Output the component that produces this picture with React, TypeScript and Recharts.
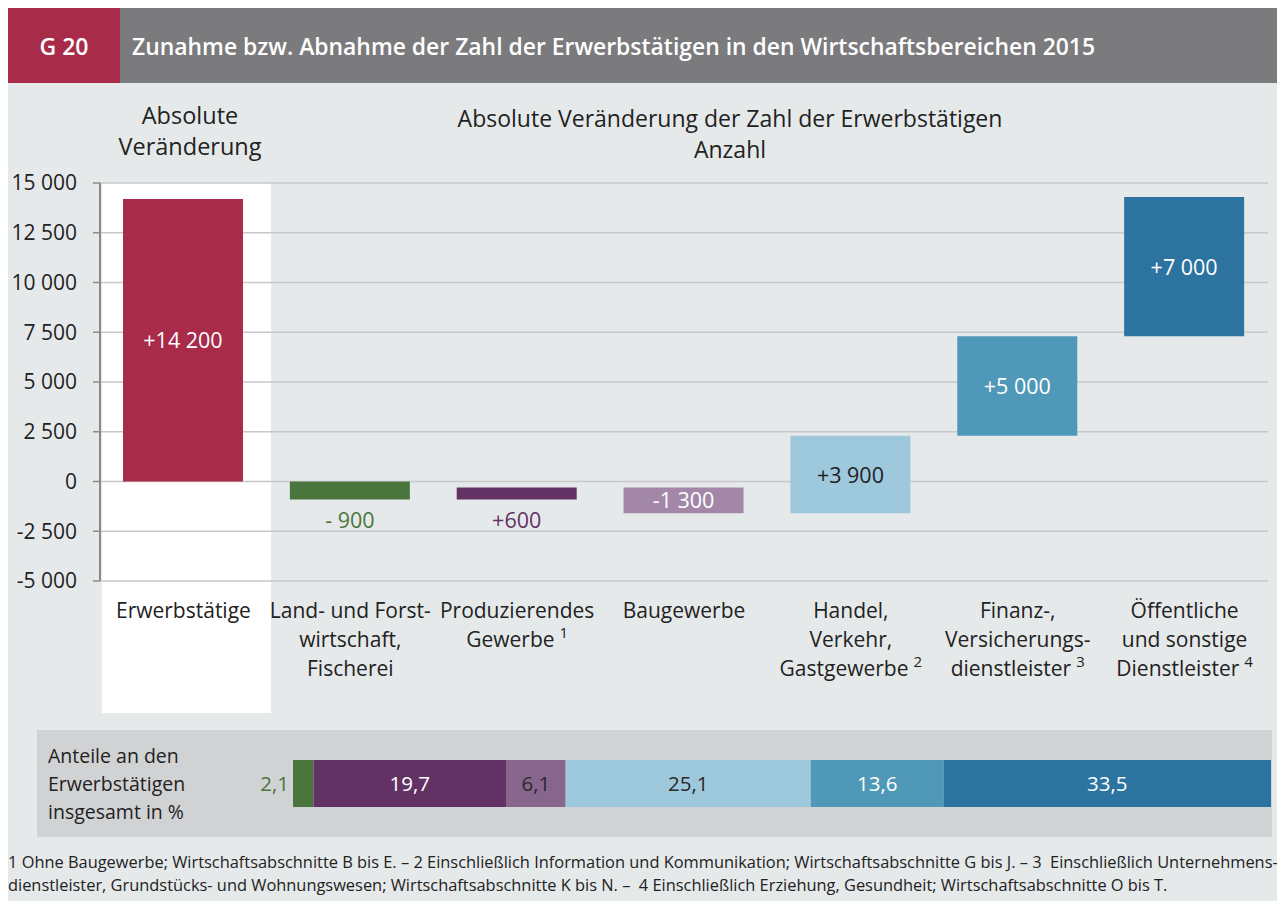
import React from "react";
import { BarChart, Bar, XAxis, YAxis, CartesianGrid, Cell, LabelList } from "recharts";

const categories = [
  "Erwerbstätige",
  "Land- und Forstwirtschaft, Fischerei",
  "Produzierendes Gewerbe",
  "Baugewerbe",
  "Handel, Verkehr, Gastgewerbe",
  "Finanz-, Versicherungsdienstleister",
  "Öffentliche und sonstige Dienstleister",
];
const tickLines = [
  ["Erwerbstätige"],
  ["Land- und Forst-", "wirtschaft,", "Fischerei"],
  ["Produzierendes", "Gewerbe"],
  ["Baugewerbe"],
  ["Handel,", "Verkehr,", "Gastgewerbe"],
  ["Finanz-,", "Versicherungs-", "dienstleister"],
  ["Öffentliche", "und sonstige", "Dienstleister"],
];
const footnoteMarks = ["", "", "1", "", "2", "3", "4"];
const changes = [14200, -900, 600, -1300, 3900, 5000, 7000];
const changeLabels = ["+14 200", "- 900", "+600", "-1 300", "+3 900", "+5 000", "+7 000"];
const yTicks = [-5000, -2500, 0, 2500, 5000, 7500, 10000, 12500, 15000];
const shareValues = [2.1, 19.7, 6.1, 25.1, 13.6, 33.5];

const barColors = ["#a82b4a", "#4a763e", "#633264", "#a387a9", "#9ec8dc", "#4f98b8", "#2c73a0"];
const barTextColors = ["#ffffff", "#4a763e", "#633264", "#ffffff", "#222222", "#ffffff", "#ffffff"];
const shareColors = ["#4a763e", "#633264", "#87668d", "#9ec8dc", "#4f98b8", "#2c73a0"];
const shareTextColors = ["#4a763e", "#ffffff", "#2a2a2a", "#2a2a2a", "#ffffff", "#ffffff"];

const FONT = "'Open Sans', 'Noto Sans', sans-serif";

// waterfall ranges
const waterfall = (() => {
  const rows: any[] = [];
  let running = 0;
  changes.forEach((c, i) => {
    if (i === 0) {
      rows.push({ name: categories[i], range: [0, c], label: changeLabels[i] });
    } else {
      const a = running;
      const b = running + c;
      running = b;
      rows.push({ name: categories[i], range: [Math.min(a, b), Math.max(a, b)], label: changeLabels[i] });
    }
  });
  return rows;
})();

const shareRow = (() => {
  const r: any = { name: "Anteile" };
  shareValues.forEach((v, i) => (r["s" + i] = v));
  return [r];
})();
const shareTotal = shareValues.reduce((a, b) => a + b, 0);

const fmtThousands = (v: number) => {
  const s = Math.abs(v).toString().replace(/\B(?=(\d{3})+(?!\d))/g, " ");
  return (v < 0 ? "-" : "") + s;
};

const CatTick = (props: any) => {
  const { x, y, payload } = props;
  const idx = categories.indexOf(payload.value);
  const lines = tickLines[idx] || [];
  const mark = footnoteMarks[idx];
  return (
    <g>
      {lines.map((l, i) => (
        <text
          key={i}
          x={x}
          y={y + 37 + i * 29}
          textAnchor="middle"
          fontSize={21}
          fontFamily={FONT}
          fill="#222"
        >
          {l}
          {i === lines.length - 1 && mark ? (
            <tspan fontSize={15} dy={-9} dx={5}>
              {mark}
            </tspan>
          ) : null}
        </text>
      ))}
    </g>
  );
};

const BarLabel = (props: any) => {
  const { x, y, width, height, index } = props;
  const top = Math.min(y, y + height);
  const h = Math.abs(height);
  const cx = x + width / 2;
  const inside = h >= 22;
  const cy = inside ? top + h / 2 + 8 : top + h + 29;
  return (
    <text x={cx} y={cy} textAnchor="middle" fontSize={21.5} fontFamily={FONT} fill={barTextColors[index]}>
      {changeLabels[index]}
    </text>
  );
};

const makeShareLabel = (i: number) => (props: any) => {
  const { x, y, width, height } = props;
  const txt = shareValues[i].toFixed(1).replace(".", ",");
  const outside = width < 30;
  return (
    <text
      x={outside ? x - 4 : x + width / 2}
      y={y + height / 2 + 7}
      textAnchor={outside ? "end" : "middle"}
      fontSize={20.5}
      fontFamily={FONT}
      fill={shareTextColors[i]}
    >
      {txt}
    </text>
  );
};

export default function App() {
  const P = (v: number) => v - 8; // page coord -> wrapper coord
  return (
    <div
      style={{
        position: "relative",
        width: 1277,
        height: 893,
        background: "#e6e9ea",
        fontFamily: FONT,
        color: "#222",
        overflow: "hidden",
      }}
    >
      {/* header */}
      <div style={{ position: "absolute", left: 0, top: 0, width: P(120), height: 75, background: "#a82b4a" }} />
      <div style={{ position: "absolute", left: P(120), top: 0, right: 0, height: 75, background: "#7b7b7d" }} />
      <div
        style={{
          position: "absolute",
          left: 0,
          width: P(120),
          top: 0,
          height: 77,
          lineHeight: "77px",
          textAlign: "center",
          color: "#fff",
          fontSize: 23,
          fontWeight: 600,
        }}
      >
        G 20
      </div>
      <div
        style={{
          position: "absolute",
          left: P(132),
          top: 0,
          height: 77,
          lineHeight: "77px",
          color: "#fff",
          fontSize: 22.9,
          fontWeight: 600,
          whiteSpace: "nowrap",
        }}
      >
        Zunahme bzw. Abnahme der Zahl der Erwerbstätigen in den Wirtschaftsbereichen 2015
      </div>

      {/* subtitles */}
      <div
        style={{
          position: "absolute",
          left: P(90),
          width: 200,
          top: P(100),
          textAlign: "center",
          fontSize: 23.5,
          lineHeight: "31px",
        }}
      >
        Absolute
        <br />
        Veränderung
      </div>
      <div
        style={{
          position: "absolute",
          left: P(430),
          width: 600,
          top: P(103),
          textAlign: "center",
          fontSize: 23,
          lineHeight: "31px",
        }}
      >
        Absolute Veränderung der Zahl der Erwerbstätigen
        <br />
        Anzahl
      </div>

      {/* white column behind first category */}
      <div style={{ position: "absolute", left: P(102), top: P(183), width: 169, height: 530, background: "#ffffff" }} />

      {/* waterfall chart */}
      <div style={{ position: "absolute", left: -8, top: -8 }}>
        <BarChart
          width={1285}
          height={720}
          data={waterfall}
          margin={{ top: 183, right: 17, bottom: 9, left: 0 }}
          barSize={120}
        >
          <CartesianGrid horizontal vertical={false} stroke="#c6c8ca" strokeWidth={1.5} />
          <XAxis
            dataKey="name"
            axisLine={false}
            tickLine={false}
            tickSize={0}
            tickMargin={0}
            height={130}
            interval={0}
            tick={<CatTick />}
          />
          <YAxis
            type="number"
            domain={[-5000, 15000]}
            ticks={yTicks}
            width={100}
            tickSize={7}
            tickMargin={16}
            axisLine={{ stroke: "#8a8a8a", strokeWidth: 2 }}
            tickLine={{ stroke: "#8a8a8a", strokeWidth: 1.5 }}
            tick={{ fontSize: 21, fontFamily: FONT, fill: "#222" }}
            tickFormatter={fmtThousands}
            allowDataOverflow
          />
          <Bar dataKey="range" isAnimationActive={false}>
            {waterfall.map((_, i) => (
              <Cell key={i} fill={barColors[i]} />
            ))}
            <LabelList dataKey="label" content={<BarLabel />} />
          </Bar>
        </BarChart>
      </div>

      {/* share panel */}
      <div style={{ position: "absolute", left: P(37), top: P(730), width: 1235, height: 107, background: "#d1d2d4" }} />
      <div
        style={{
          position: "absolute",
          left: P(48),
          top: P(742),
          fontSize: 19.5,
          lineHeight: "28px",
          whiteSpace: "nowrap",
        }}
      >
        Anteile an den
        <br />
        Erwerbstätigen
        <br />
        insgesamt in %
      </div>
      <div style={{ position: "absolute", left: P(233), top: P(760) }}>
        <BarChart
          width={1038}
          height={47}
          data={shareRow}
          layout="vertical"
          margin={{ top: 0, right: 0, bottom: 0, left: 60 }}
          barCategoryGap={0}
        >
          <XAxis type="number" hide domain={[0, shareTotal]} />
          <YAxis type="category" dataKey="name" hide />
          {shareValues.map((_, i) => (
            <Bar key={i} dataKey={"s" + i} stackId="a" fill={shareColors[i]} isAnimationActive={false}>
              <LabelList dataKey={"s" + i} content={makeShareLabel(i)} />
            </Bar>
          ))}
        </BarChart>
      </div>

      {/* footnotes */}
      <div
        style={{
          position: "absolute",
          left: 0,
          top: P(850),
          fontSize: 16.4,
          lineHeight: "23px",
          whiteSpace: "nowrap",
          color: "#222",
        }}
      >
        1 Ohne Baugewerbe; Wirtschaftsabschnitte B bis E. – 2 Einschließlich Information und Kommunikation; Wirtschaftsabschnitte G bis J. – 3&nbsp; Einschließlich Unternehmens-
        <br />
        dienstleister, Grundstücks- und Wohnungswesen; Wirtschaftsabschnitte K bis N. –&nbsp; 4 Einschließlich Erziehung, Gesundheit; Wirtschaftsabschnitte O bis T.
      </div>
    </div>
  );
}
